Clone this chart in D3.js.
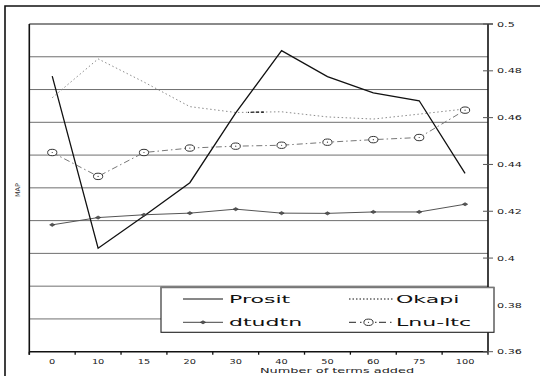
<!DOCTYPE html>
<html>
<head>
<meta charset="utf-8">
<script src="https://cdn.jsdelivr.net/npm/d3@7"></script>
<style>
  html, body { margin: 0; padding: 0; background: #fff; }
  svg { display: block; font-family: "DejaVu Sans", sans-serif; }
</style>
</head>
<body>
<svg id="chart" width="540" height="376"></svg>
<script>
// Number of expansion terms added to the query
const categories = ["0", "10", "15", "20", "30", "40", "50", "60", "75", "100"];

// Mean average precision for each run
const prosit  = [0.4777, 0.4042, 0.4180, 0.4322, 0.4620, 0.4886, 0.4775, 0.4706, 0.4672, 0.4362];
const okapi   = [0.4685, 0.4851, 0.4752, 0.4647, 0.4622, 0.4625, 0.4603, 0.4594, 0.4615, 0.4637];
const dtudtn  = [0.4142, 0.4173, 0.4185, 0.4192, 0.4209, 0.4192, 0.4191, 0.4197, 0.4197, 0.4230];
const lnultc  = [0.4451, 0.4349, 0.4451, 0.4470, 0.4478, 0.4482, 0.4495, 0.4506, 0.4515, 0.4632];

// Right-hand value axis
const yTickValues = [0.5, 0.48, 0.46, 0.44, 0.42, 0.4, 0.38, 0.36];
const yTickLabels = ["0.5", "0.48", "0.46", "0.44", "0.42", "0.4", "0.38", "0.36"];

const seriesNames = ["Prosit", "Okapi", "dtudtn", "Lnu-ltc"];

const svg = d3.select("#chart");
const plot = { left: 29.3, right: 488, top: 24, bottom: 351.7 };

const x = d3.scaleBand().domain(categories).range([plot.left, plot.right]);
const y = d3.scaleLinear().domain([0.36, 0.5]).range([plot.bottom, plot.top]);
// Horizontal grid follows a separate 0..1 scale split into tenths
const yGrid = d3.scaleLinear().domain([0, 1]).range([plot.bottom, plot.top]);
const cx = c => x(c) + x.bandwidth() / 2;

// Text drawn wide, as in the exported figure
function wideText(parent, px, py, str, size, sx, anchor, opts = {}) {
  const g = parent.append("g").attr("transform", `translate(${px},${py}) scale(${sx},1)`);
  return g.append("text")
    .attr("text-anchor", anchor)
    .attr("dominant-baseline", "central")
    .attr("font-size", size)
    .attr("fill", opts.fill || "#111")
    .text(str);
}

// Outer frame
svg.append("path")
  .attr("d", "M5,376 V6 H540")
  .attr("fill", "none").attr("stroke", "#111").attr("stroke-width", 1.6);

// Gridlines
const grid = svg.append("g");
grid.selectAll("line")
  .data(yGrid.ticks(10).filter(v => v > 0 && v < 1))
  .join("line")
  .attr("x1", plot.left).attr("x2", plot.right)
  .attr("y1", d => yGrid(d)).attr("y2", d => yGrid(d))
  .attr("stroke", "#6f6f6f").attr("stroke-width", 1);

// Top edge of plot area
svg.append("line")
  .attr("x1", plot.left).attr("x2", plot.right + 5)
  .attr("y1", yGrid(1)).attr("y2", yGrid(1))
  .attr("stroke", "#8a8a8a").attr("stroke-width", 1.8);

// Left edge
svg.append("line")
  .attr("x1", plot.left).attr("x2", plot.left)
  .attr("y1", plot.top).attr("y2", plot.bottom + 3)
  .attr("stroke", "#111").attr("stroke-width", 1.6);

// Bottom category axis
const xAxis = svg.append("g").attr("transform", `translate(0,${plot.bottom})`);
xAxis.append("line")
  .attr("x1", plot.left).attr("x2", plot.right)
  .attr("stroke", "#111").attr("stroke-width", 1.6);
const bounds = categories.map(c => x(c)).concat([plot.right]);
xAxis.selectAll("line.tick")
  .data(bounds)
  .join("line").attr("class", "tick")
  .attr("x1", d => d).attr("x2", d => d)
  .attr("y1", 0).attr("y2", 3)
  .attr("stroke", "#111").attr("stroke-width", 1.3);
categories.forEach(c => {
  wideText(svg, cx(c), 361.5, c, 7, 1.4, "middle", { fill: "#222" });
});
wideText(svg, 337, 370, "Number of terms added", 7.5, 1.72, "middle", { fill: "#222" });

// Right value axis
const yAxis = svg.append("g").attr("transform", `translate(${plot.right},0)`);
yAxis.append("line")
  .attr("y1", plot.top).attr("y2", plot.bottom)
  .attr("stroke", "#111").attr("stroke-width", 1.6);
yAxis.selectAll("line.tick")
  .data(yTickValues)
  .join("line").attr("class", "tick")
  .attr("x1", -5).attr("x2", 5)
  .attr("y1", d => y(d)).attr("y2", d => y(d))
  .attr("stroke", "#555").attr("stroke-width", 1);
yTickValues.forEach((v, i) => {
  wideText(svg, plot.right + 9, y(v), yTickLabels[i], 7, 1.6, "start", { fill: "#222" });
});

// Y axis name
svg.append("text")
  .attr("transform", `translate(18,190) rotate(-90)`)
  .attr("text-anchor", "middle")
  .attr("dominant-baseline", "central")
  .attr("font-size", 6.5)
  .attr("fill", "#333")
  .text("MAP");

// Series lines
const line = d3.line().x((d, i) => cx(categories[i])).y(d => y(d));

svg.append("path").datum(okapi).attr("d", line)
  .attr("fill", "none").attr("stroke", "#8c8c8c").attr("stroke-width", 1)
  .attr("stroke-dasharray", "1.5,2.5");

// darker stretch of the Okapi curve between 30 and 40 terms
const clip = svg.append("clipPath").attr("id", "okapiDark");
clip.append("rect")
  .attr("x", cx("30") + 0.27 * x.step()).attr("width", 0.36 * x.step())
  .attr("y", plot.top).attr("height", plot.bottom - plot.top);
svg.append("path").datum(okapi).attr("d", line)
  .attr("clip-path", "url(#okapiDark)")
  .attr("fill", "none").attr("stroke", "#000").attr("stroke-width", 1.2)
  .attr("stroke-dasharray", "3,2");

svg.append("path").datum(lnultc).attr("d", line)
  .attr("fill", "none").attr("stroke", "#777").attr("stroke-width", 1)
  .attr("stroke-dasharray", "6,3,1.5,3");

svg.append("path").datum(dtudtn).attr("d", line)
  .attr("fill", "none").attr("stroke", "#555").attr("stroke-width", 1);

svg.append("path").datum(prosit).attr("d", line)
  .attr("fill", "none").attr("stroke", "#111").attr("stroke-width", 1.3);

// Markers
function circleMark(g, px, py) {
  g.append("ellipse").attr("cx", px).attr("cy", py).attr("rx", 4.6).attr("ry", 3.2)
    .attr("fill", "#fff").attr("stroke", "#333").attr("stroke-width", 1);
  g.append("circle").attr("cx", px).attr("cy", py).attr("r", 0.6).attr("fill", "#333");
}
function diamondMark(g, px, py) {
  g.append("path")
    .attr("d", `M${px - 2.6},${py} L${px},${py - 1.6} L${px + 2.6},${py} L${px},${py + 1.6} Z`)
    .attr("fill", "#555").attr("stroke", "#333").attr("stroke-width", 0.6);
}
const marks = svg.append("g");
lnultc.forEach((v, i) => circleMark(marks, cx(categories[i]), y(v)));
dtudtn.forEach((v, i) => diamondMark(marks, cx(categories[i]), y(v)));

// Legend
const lg = svg.append("g");
lg.append("rect")
  .attr("x", 161).attr("y", 287.3).attr("width", 333).attr("height", 45)
  .attr("fill", "#fff").attr("stroke", "#222").attr("stroke-width", 1.1);
lg.append("line").attr("x1", 161).attr("x2", 494).attr("y1", 287.6).attr("y2", 287.6)
  .attr("stroke", "#777").attr("stroke-width", 1.2);

const row1 = 299, row2 = 322.3;
lg.append("line").attr("x1", 183).attr("x2", 223).attr("y1", row1).attr("y2", row1)
  .attr("stroke", "#111").attr("stroke-width", 1);
wideText(lg, 229, row1, seriesNames[0], 10.6, 2.08, "start");

lg.append("line").attr("x1", 349).attr("x2", 394).attr("y1", row1).attr("y2", row1)
  .attr("stroke", "#111").attr("stroke-width", 1).attr("stroke-dasharray", "1.5,2");
wideText(lg, 396, row1, seriesNames[1], 10.6, 2.08, "start");

lg.append("line").attr("x1", 183).attr("x2", 223).attr("y1", row2).attr("y2", row2)
  .attr("stroke", "#444").attr("stroke-width", 1);
diamondMark(lg, 203, row2);
wideText(lg, 229, row2, seriesNames[2], 10.6, 2.08, "start");

lg.append("line").attr("x1", 349).attr("x2", 394).attr("y1", row2).attr("y2", row2)
  .attr("stroke", "#222").attr("stroke-width", 1).attr("stroke-dasharray", "7,4,1.5,2.5");
circleMark(lg, 368.5, row2);
wideText(lg, 396, row2, seriesNames[3], 10.6, 2.08, "start");
</script>
</body>
</html>
